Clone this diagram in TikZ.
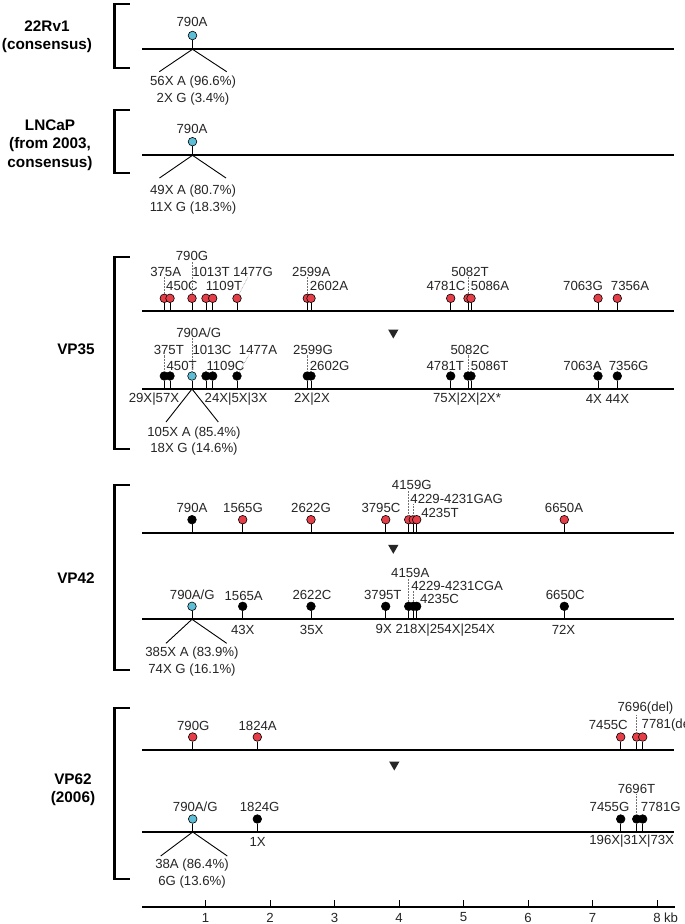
\documentclass[tikz,border=0pt]{standalone}
\usepackage{fontspec}
\setmainfont{Liberation Sans}
\usetikzlibrary{positioning,shapes.geometric}

\definecolor{snpred}{RGB}{230,62,72}
\definecolor{snpcyan}{RGB}{94,190,214}

\begin{document}
\begin{tikzpicture}[
  x=1pt, y=-1pt,
  font=\fontsize{13.2}{15}\selectfont,
  lb/.style={inner sep=0pt, text=black!85},
  pct/.style={inner sep=0pt, align=center, text=black!85,
              font=\fontsize{13.2}{16.8}\selectfont},
  grp/.style={inner sep=0pt, align=center,
              font=\bfseries\fontsize{15.3}{18.4}\selectfont},
  trunk/.style={line width=2.2pt},
  brak/.style={line width=2.8pt},
  pin/.style={draw, circle, line width=0.6pt, minimum size=8.6pt, inner sep=0pt},
  stem/.style={line width=0.9pt},
  lead/.style={densely dotted, black!55, line width=0.5pt},
  fork/.style={line width=0.9pt},
  arr/.style={regular polygon, regular polygon sides=3, shape border rotate=180,
              fill=black!85, minimum size=12pt, inner sep=0pt},
]
\useasboundingbox (0,0) rectangle (685,924);
\clip (0,0) rectangle (685,924);
\fill[white] (0,0) rectangle (685,924);

% sample names and brackets
\node[grp] (g1) at (47,37) {22Rv1\\(consensus)};
\node[grp] (g2) at (50,145) {LNCaP\\(from 2003,\\consensus)};
\node[grp] (g3) at (76,349) {VP35};
\node[grp] (g4) at (76,578) {VP42};
\node[grp] (g5) at (73,790) {VP62\\(2006)};
\foreach \t/\b in {4/68, 110/173, 257/449, 485/670, 708/879}
  \draw[brak] (129.5,\t) -- (114.8,\t) -- (114.8,\b) -- (129.5,\b);

% genome lines
\foreach \n/\y in {r1/49.3, r2/155.3, ra/311.3, rb/389, rc/532.7, rd/619.3, re/750, rf/832} {
  \coordinate (\n0) at (142,\y);
  \coordinate (\n1) at (674,\y);
  \draw[trunk] (\n0) -- (\n1);
}

% 22Rv1
\node[pin, fill=snpcyan] (p790) at (192.5,35.5) {};
\draw[stem] (p790) -- (p790 |- r10);
\node[lb] (lp790) at (192,21.7) {790A};
\coordinate (p1l) at (159.3,71.7);
\coordinate (p1r) at (226.7,71.7);
\draw[fork] (p1l) -- (p790 |- r10) -- (p1r);
\node[pct] (pp1) at (193,90.2) {56X A (96.6\%)\\2X G (3.4\%)};

% LNCaP
\node[pin, fill=snpcyan] (q790) at (192.5,141.7) {};
\draw[stem] (q790) -- (q790 |- r20);
\node[lb] (lq790) at (192,129.3) {790A};
\coordinate (q1l) at (159.5,178);
\coordinate (q1r) at (226,178);
\draw[fork] (q1l) -- (q790 |- r20) -- (q1r);
\node[pct] (pq1) at (193,199.5) {49X A (80.7\%)\\11X G (18.3\%)};

% VP35, before
\foreach \x/\n/\c in {164.3/a375/snpred, 170/a450/snpred, 192/a790/snpred,
    206/a1013/snpred, 212.7/a1109/snpred, 237/a1477/snpred, 307.3/a2599/snpred,
    311/a2602/snpred, 450.7/a4781/snpred, 468/a5082/snpred, 471/a5086/snpred,
    598/a7063/snpred, 617.3/a7356/snpred} {
  \node[pin, fill=\c] (\n) at (\x,298.3) {};
  \draw[stem] (\n) -- (\n |- ra0);
}
\foreach \x/\y/\n/\t in {192/256/la790/790G, 165.7/272/la375/375A,
    211/272/la1013/1013T, 253/272/la1477/1477G, 311.3/272/la2599/2599A,
    470/272/la5082/5082T, 182/286/la450/450C, 224/286/la1109/1109T,
    329/286/la2602/2602A, 446/286/la4781/4781C, 490/286/la5086/5086A,
    583/286/la7063/7063G, 630/286/la7356/7356A}
  \node[lb] (\n) at (\x,\y) {\t};
\foreach \n in {375,790,2599,5082}
  \draw[lead] (a\n) -- (a\n |- la\n.south);
\draw[lead] (a1477) -- ([xshift=-5pt]la1477.south);

\node[arr] (v1) at (393.3,332.5) {};

% VP35, after
\foreach \x/\n/\c in {164.3/b375/black, 170/b450/black, 192/b790/snpcyan,
    206/b1013/black, 212.7/b1109/black, 237/b1477/black, 307.3/b2599/black,
    311/b2602/black, 450.7/b4781/black, 468/b5082/black, 471/b5086/black,
    598/b7063/black, 617.3/b7356/black} {
  \node[pin, fill=\c] (\n) at (\x,376) {};
  \draw[stem] (\n) -- (\n |- rb0);
}
\foreach \x/\y/\n/\t in {198.7/332.7/lb790/{790A/G}, 168.8/350/lb375/375T,
    212/350/lb1013/1013C, 258/350/lb1477/1477A, 313/350/lb2599/2599G,
    470/350/lb5082/5082C, 181.7/366/lb450/450T, 225.5/366/lb1109/1109C,
    329.7/366/lb2602/2602G, 445.3/366/lb4781/4781T, 489.7/366/lb5086/5086T,
    582.5/366/lb7063/7063A, 628.7/366/lb7356/7356G,
    154/399/nb1/29X|57X, 236/399/nb2/24X|5X|3X, 312/399/nb3/2X|2X,
    467/399/nb4/75X|2X|2X*, 607.5/399/nb5/4X 44X}
  \node[lb] (\n) at (\x,\y) {\t};
\foreach \n in {375,790,2599,5082}
  \draw[lead] (b\n) -- (b\n |- lb\n.south);
\draw[lead] (b1477) -- ([xshift=-9pt]lb1477.south);
\coordinate (b1l) at (166,422);
\coordinate (b1r) at (218.3,422);
\draw[fork] (b1l) -- (b790 |- rb0) -- (b1r);
\node[pct] (pb1) at (194,441) {105X A (85.4\%)\\18X G (14.6\%)};

% VP42, before
\foreach \x/\n/\c in {192/c790/black, 242.7/c1565/snpred, 311/c2622/snpred,
    385.7/c3795/snpred, 408.7/c4159/snpred, 413.3/c4229/snpred,
    416.7/c4235/snpred, 564.3/c6650/snpred} {
  \node[pin, fill=\c] (\n) at (\x,519.7) {};
  \draw[stem] (\n) -- (\n |- rc0);
}
\foreach \x/\y/\n/\t in {192/508.3/lc790/790A, 243/508.3/lc1565/1565G,
    311/508.3/lc2622/2622G, 381/508.3/lc3795/3795C, 564/508.3/lc6650/6650A,
    411.8/485/lc4159/4159G, 456.7/499.3/lc4229/4229-4231GAG,
    440/513.3/lc4235/4235T}
  \node[lb] (\n) at (\x,\y) {\t};
\foreach \n in {4159,4229}
  \draw[lead] (c\n) -- (c\n |- lc\n.south);

\node[arr] (v2) at (393.3,547.8) {};

% VP42, after
\foreach \x/\n/\c in {192/d790/snpcyan, 242.7/d1565/black, 311/d2622/black,
    385.7/d3795/black, 408.7/d4159/black, 413.3/d4229/black,
    416.7/d4235/black, 564.3/d6650/black} {
  \node[pin, fill=\c] (\n) at (\x,606.3) {};
  \draw[stem] (\n) -- (\n |- rd0);
}
\foreach \x/\y/\n/\t in {192.3/595/ld790/{790A/G}, 243.7/595.5/ld1565/1565A,
    312/595/ld2622/2622C, 382.8/595/ld3795/3795T, 565.3/595/ld6650/6650C,
    410.3/573.3/ld4159/4159A, 457.2/586/ld4229/4229-4231CGA,
    439.5/599.3/ld4235/4235C,
    242.8/630/nd1/43X, 311.7/630/nd2/35X, 435.3/630/nd3/9X 218X|254X|254X,
    563.5/630/nd4/72X}
  \node[lb] (\n) at (\x,\y) {\t};
\foreach \n in {4159,4229}
  \draw[lead] (d\n) -- (d\n |- ld\n.south);
\coordinate (d1l) at (166,643.3);
\coordinate (d1r) at (226.7,643.3);
\draw[fork] (d1l) -- (d790 |- rd0) -- (d1r);
\node[pct] (pd1) at (192,661.7) {385X A (83.9\%)\\74X G (16.1\%)};

% VP62, before
\foreach \x/\n/\c in {192.7/e790/snpred, 257.3/e1824/snpred,
    620.7/e7455/snpred, 636.7/e7696/snpred, 642.7/e7781/snpred} {
  \node[pin, fill=\c] (\n) at (\x,737) {};
  \draw[stem] (\n) -- (\n |- re0);
}
\foreach \x/\y/\n/\t in {193.3/726/le790/790G, 257.7/726/le1824/1824A,
    608.3/725/le7455/7455C, 645.5/708.3/le7696/7696(del)}
  \node[lb] (\n) at (\x,\y) {\t};
\node[lb, anchor=west] (le7781) at (641.5,725) {7781(del)};
\draw[lead] (e7696) -- (e7696 |- le7696.south);

\node[arr] (v3) at (394.3,764.5) {};

% VP62, after
\foreach \x/\n/\c in {192.7/f790/snpcyan, 257.3/f1824/black,
    620.7/f7455/black, 636.7/f7696/black, 642.7/f7781/black} {
  \node[pin, fill=\c] (\n) at (\x,819) {};
  \draw[stem] (\n) -- (\n |- rf0);
}
\foreach \x/\y/\n/\t in {195.3/806.7/lf790/{790A/G}, 259.7/806.7/lf1824/1824G,
    636.5/789.3/lf7696/7696T, 609.5/807.3/lf7455/7455G,
    660.8/807.3/lf7781/7781G, 257.7/841.5/nf1/1X, 631.7/841.5/nf2/196X|31X|73X}
  \node[lb] (\n) at (\x,\y) {\t};
\draw[lead] (f7696) -- (f7696 |- lf7696.south);
\coordinate (f1l) at (160.7,856);
\coordinate (f1r) at (227.3,856);
\draw[fork] (f1l) -- (f790 |- rf0) -- (f1r);
\node[pct] (pf1) at (192,873.5) {38A (86.4\%)\\6G (13.6\%)};

% scale
\coordinate (s0) at (142,907);
\coordinate (s1) at (675,907);
\draw[trunk] (s0) -- (s1);
\foreach \k in {1,...,8} {
  \draw[line width=1pt] (141+64.5*\k,907) -- ++(0,-7);
  \node[lb] (k\k) at (141+64.5*\k,917.5) {\k};
}
\node[lb] (kb) at (671,917.5) {kb};
\end{tikzpicture}
\end{document}
